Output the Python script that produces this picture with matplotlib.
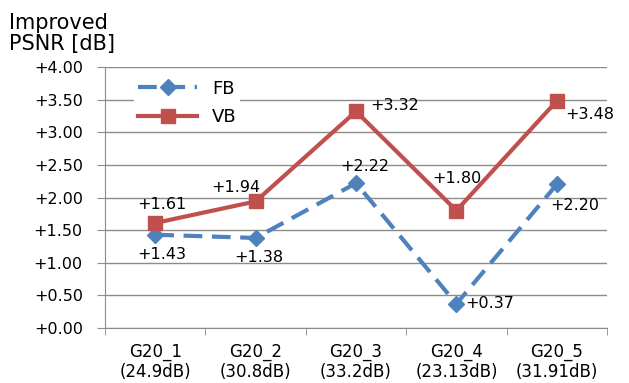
import matplotlib.pyplot as plt
import numpy as np

categorias = ['G20_1\n(24.9dB)', 'G20_2\n(30.8dB)', 'G20_3\n(33.2dB)',
              'G20_4\n(23.13dB)', 'G20_5\n(31.91dB)']
fb = [1.43, 1.38, 2.22, 0.37, 2.20]
vb = [1.61, 1.94, 3.32, 1.80, 3.48]

# deslocamento dos rótulos (pontos) para cada ponto
offs_fb = [(5, -14), (2, -14), (6, 12), (24, 0), (13, -15)]
offs_vb = [(5, 13), (-14, 10), (28, 4), (0, 23), (24, -10)]

azul = '#4F81BD'
vermelho = '#C0504D'
cinza = '#8C8C8C'

fig = plt.figure(figsize=(6.29, 3.83), dpi=100)
ax = fig.add_axes([0.167, 0.1436, 0.798, 0.6814])

x = np.arange(len(categorias))
ax.plot(x, fb, color=azul, lw=3, ls=(0, (4.5, 2.3)), marker='D', ms=8,
        label='FB', zorder=3)
ax.plot(x, vb, color=vermelho, lw=3, marker='s', ms=10.5, label='VB', zorder=3)

for xi, v, o in zip(x, fb, offs_fb):
    ax.annotate(f'+{v:.2f}', (xi, v), xytext=o, textcoords='offset points',
                ha='center', va='center', fontsize=11.5)
for xi, v, o in zip(x, vb, offs_vb):
    ax.annotate(f'+{v:.2f}', (xi, v), xytext=o, textcoords='offset points',
                ha='center', va='center', fontsize=11.5)

ax.set_xlim(-0.5, len(categorias) - 0.5)
ax.set_ylim(0, 4)
yt = np.arange(0, 4.01, 0.5)
ax.set_yticks(yt)
ax.set_yticklabels([f'+{v:.2f}' for v in yt], fontsize=11.5)
ax.set_xticks(x)
ax.set_xticklabels(categorias, fontsize=12, linespacing=1.15)
ax.set_xticks(np.arange(-0.5, len(categorias), 1), minor=True)
ax.tick_params(axis='x', which='major', length=0, pad=11)
ax.tick_params(axis='x', which='minor', length=5, color=cinza)
ax.tick_params(axis='y', length=6, color=cinza, pad=10)

ax.grid(True, axis='y', color=cinza, lw=1)
ax.set_axisbelow(True)
for s in ['top', 'right']:
    ax.spines[s].set_visible(False)
for s in ['left', 'bottom']:
    ax.spines[s].set_color(cinza)

leg = ax.legend(loc='upper left', bbox_to_anchor=(0.04, 1.0), fontsize=13,
                frameon=True, framealpha=1, edgecolor='none', fancybox=False,
                handlelength=3.3, borderpad=0.2, labelspacing=0.6)

fig.text(0.015, 0.965, 'Improved\nPSNR [dB]', fontsize=15, va='top',
         ha='left', linespacing=1.05)

fig.savefig('out.png', dpi=100)
